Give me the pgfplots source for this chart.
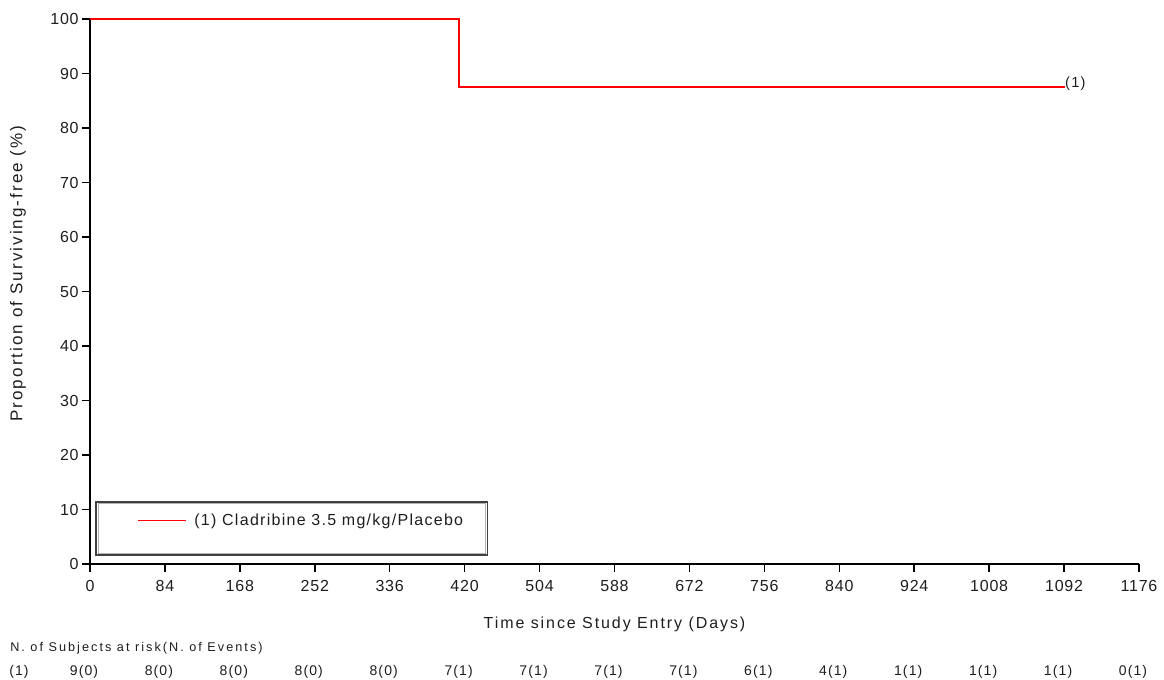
\documentclass[border=0pt]{standalone}
\usepackage{pgfplots}
\pgfplotsset{compat=1.18}
\usetikzlibrary{calc}
\usepackage{fontspec}
\setmainfont{Liberation Sans}
\newfontfamily\lsA[LetterSpace=12]{Liberation Sans}
\newfontfamily\lsL[LetterSpace=8]{Liberation Sans}
\newfontfamily\lsB[LetterSpace=5]{Liberation Sans}
\newfontfamily\lsC[LetterSpace=8]{Liberation Sans}
\newfontfamily\lsH[LetterSpace=16]{Liberation Sans}
\definecolor{txt}{RGB}{30,30,30}
\definecolor{kmred}{RGB}{255,0,0}
\tikzset{risk/.style={anchor=center, inner sep=0pt, font=\lsC\fontsize{10.5}{12}\selectfont, text=txt}}
\newcommand{\risk}[2]{\node[risk] at ($(axis cs:#1,0)+(-4.5pt,-81pt)$) {#2};}
\begin{document}
\begin{tikzpicture}
\begin{axis}[
  at={(0,0)}, anchor=south west,
  scale only axis,
  width=786.75pt, height=408.75pt,
  xmin=0, xmax=1176, ymin=0, ymax=100,
  xtick={0,84,...,1176},
  ytick={0,10,...,100},
  axis x line*=bottom, axis y line*=left,
  axis line style={black, line width=1.4pt},
  tick align=outside,
  major tick length=6pt,
  tick style={black, line width=1.1pt},
  x axis line style={-}, y axis line style={-},
  /pgf/number format/assume math mode=true,
  /pgf/number format/1000 sep={},
  ticklabel style={font=\lsB\fontsize{12}{14}\selectfont, text=txt},
  xticklabel style={yshift=-3pt},
  yticklabel style={xshift=1pt},
  xlabel={Time since Study Entry (Days)},
  ylabel={Proportion of Surviving-free (\%)},
  label style={font=\lsA\fontsize{12}{14}\selectfont, text=txt},
  xlabel style={at={(axis description cs:0.5,0)}, anchor=center, yshift=-45pt},
  ylabel style={at={(axis description cs:-0.0686,0.533)}, anchor=center, font=\lsA\fontsize{12.8}{14}\selectfont},
  clip=false,
  legend style={at={(axis cs:52.7,7.9)}, anchor=west, draw=none, fill=none,
    font=\lsL\fontsize{12}{14}\selectfont, text=txt, inner sep=0pt,
    column sep=6pt, legend cell align=left, nodes={inner sep=0pt}},
  legend image code/.code={\draw[#1, line width=0.8pt] (0pt,0pt) -- (36pt,0pt);},
]
\draw[black!75, line width=0.8pt] (axis cs:6.73,11.38) rectangle (axis cs:445.1,1.65);
\draw[black!30, line width=0.7pt] (axis cs:8.97,11.1) rectangle (axis cs:442.8,1.93);
\addplot[kmred, line width=1.4pt, const plot] coordinates {
  (0,100) (414,87.5) (1093,87.5)
};
\addlegendentry{(1) Cladribine 3.5 mg/kg/Placebo}
\node[anchor=west, inner sep=0pt, font=\lsC\fontsize{11}{12}\selectfont, text=txt] at (axis cs:1093,88.05) {(1)};
% risk table
\node[anchor=west, inner sep=0pt, font=\lsH\fontsize{9.5}{10}\selectfont, text=txt] at ($(rel axis cs:0,0)+(-60pt,-63.4pt)$) {N. of Subjects at risk(N. of Events)};
\node[risk] at ($(rel axis cs:0,0)+(-53.25pt,-81pt)$) {(1)};
\risk{0}{9(0)}
\risk{84}{8(0)}
\risk{168}{8(0)}
\risk{252}{8(0)}
\risk{336}{8(0)}
\risk{420}{7(1)}
\risk{504}{7(1)}
\risk{588}{7(1)}
\risk{672}{7(1)}
\risk{756}{6(1)}
\risk{840}{4(1)}
\risk{924}{1(1)}
\risk{1008}{1(1)}
\risk{1092}{1(1)}
\risk{1176}{0(1)}
\end{axis}
\path (-67.5pt,-86.25pt) rectangle (805.5pt,423pt);
\end{tikzpicture}
\end{document}
